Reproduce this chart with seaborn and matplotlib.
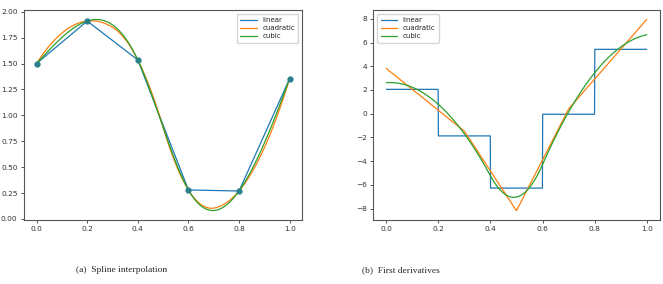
import numpy as np
import pandas as pd
import matplotlib
matplotlib.use("Agg")
import matplotlib.pyplot as plt
import seaborn as sns

# ------------------------------------------
# Data: sample points
# ------------------------------------------
x_pts = [0.0, 0.2, 0.4, 0.6, 0.8, 1.0]
y_pts = [1.50, 1.91, 1.535, 0.28, 0.27, 1.355]
methods = ["linear", "cuadratic", "cubic"]
captions = ["(a)  Spline interpolation", "(b)  First derivatives"]


# ------------------------------------------
# Spline helpers (piecewise polynomials, C^(k-1) at breaks)
# ------------------------------------------
def fit_spline(x, y, breaks, k):
    x = np.asarray(x, float)
    y = np.asarray(y, float)
    npc = len(breaks) - 1
    n = npc * (k + 1)
    rows, rhs = [], []
    # interpolation
    for xi, yi in zip(x, y):
        j = min(np.searchsorted(breaks, xi, side="right") - 1, npc - 1)
        r = np.zeros(n)
        r[j * (k + 1):(j + 1) * (k + 1)] = xi ** np.arange(k + 1)
        rows.append(r)
        rhs.append(yi)
    # smoothness at interior breaks
    for j in range(1, npc):
        b = breaks[j]
        for d in range(k):
            r = np.zeros(n)
            for m in range(d, k + 1):
                c = np.prod(np.arange(m - d + 1, m + 1)) * b ** (m - d)
                r[(j - 1) * (k + 1) + m] = c
                r[j * (k + 1) + m] = -c
            rows.append(r)
            rhs.append(0.0)
    coef = np.linalg.solve(np.array(rows), np.array(rhs))
    return coef.reshape(npc, k + 1)


def eval_spline(coef, breaks, xs, der=0):
    npc = len(breaks) - 1
    idx = np.clip(np.searchsorted(breaks, xs, side="right") - 1, 0, npc - 1)
    out = np.zeros_like(xs)
    for j in range(npc):
        p = np.polynomial.Polynomial(coef[j])
        if der:
            p = p.deriv(der)
        out[idx == j] = p(xs[idx == j])
    return out


xs = np.linspace(0, 1, 1000)

# linear
lin_y = np.interp(xs, x_pts, y_pts)
slopes = np.diff(y_pts) / np.diff(x_pts)
seg = np.clip(np.searchsorted(x_pts, xs, side="right") - 1, 0, len(slopes) - 1)
lin_d = slopes[seg]

# quadratic (knots at midpoints, not-a-knot style)
mid = (np.array(x_pts[1:]) + np.array(x_pts[:-1])) / 2
q_breaks = np.r_[x_pts[0], mid[1:-1], x_pts[-1]]
q_coef = fit_spline(x_pts, y_pts, q_breaks, 2)
quad_y = eval_spline(q_coef, q_breaks, xs)
quad_d = eval_spline(q_coef, q_breaks, xs, der=1)

# cubic (not-a-knot)
c_breaks = np.r_[x_pts[0], x_pts[2:-2], x_pts[-1]]
c_coef = fit_spline(x_pts, y_pts, c_breaks, 3)
cub_y = eval_spline(c_coef, c_breaks, xs)
cub_d = eval_spline(c_coef, c_breaks, xs, der=1)

df_val = pd.concat([
    pd.DataFrame({"x": xs, "y": v, "method": m})
    for m, v in zip(methods, [lin_y, quad_y, cub_y])
])
df_der = pd.concat([
    pd.DataFrame({"x": xs, "y": v, "method": m})
    for m, v in zip(methods, [lin_d, quad_d, cub_d])
])

# ------------------------------------------
# Plot
# ------------------------------------------
sns.set_style("ticks")
plt.rcParams["font.family"] = ["DejaVu Sans"]
palette = dict(zip(methods, ["#1f77b4", "#ff7f0e", "#2ca02c"]))

fig = plt.figure(figsize=(6.63, 2.84), dpi=100)
ax1 = fig.add_axes([0.036, 0.225, 0.420, 0.740])
ax2 = fig.add_axes([0.563, 0.225, 0.432, 0.740])

sns.lineplot(data=df_val, x="x", y="y", hue="method", palette=palette,
             estimator=None, sort=False, lw=0.9, ax=ax1)
ax1.plot(x_pts, y_pts, "o", color="#2a8088", ms=3.5, zorder=5)
sns.lineplot(data=df_der, x="x", y="y", hue="method", palette=palette,
             estimator=None, sort=False, lw=0.9, ax=ax2)

ax1.set_yticks(np.arange(0, 2.01, 0.25))
ax2.set_yticks(np.arange(-8, 8.1, 2))
for ax in (ax1, ax2):
    ax.set_xticks(np.arange(0, 1.01, 0.2))
    ax.set_xlabel("")
    ax.set_ylabel("")
    ax.tick_params(labelsize=5.3, length=2.5, width=0.6, pad=2, colors="#333333")
    for s in ax.spines.values():
        s.set_linewidth(0.8)
        s.set_color("#555555")
        s.set_visible(True)

leg_kw = dict(fontsize=5.0, handlelength=2.4, borderpad=0.45,
              labelspacing=0.3, framealpha=0.8, borderaxespad=0.6)
ax1.legend(loc="upper right", **leg_kw)
ax2.legend(loc="upper left", **leg_kw)

fig.text(0.184, 0.05, captions[0], family="Liberation Serif", fontsize=6.8,
         ha="center", va="center")
fig.text(0.605, 0.05, captions[1], family="Liberation Serif", fontsize=6.8,
         ha="center", va="center")

plt.savefig("out.png", dpi=100)
